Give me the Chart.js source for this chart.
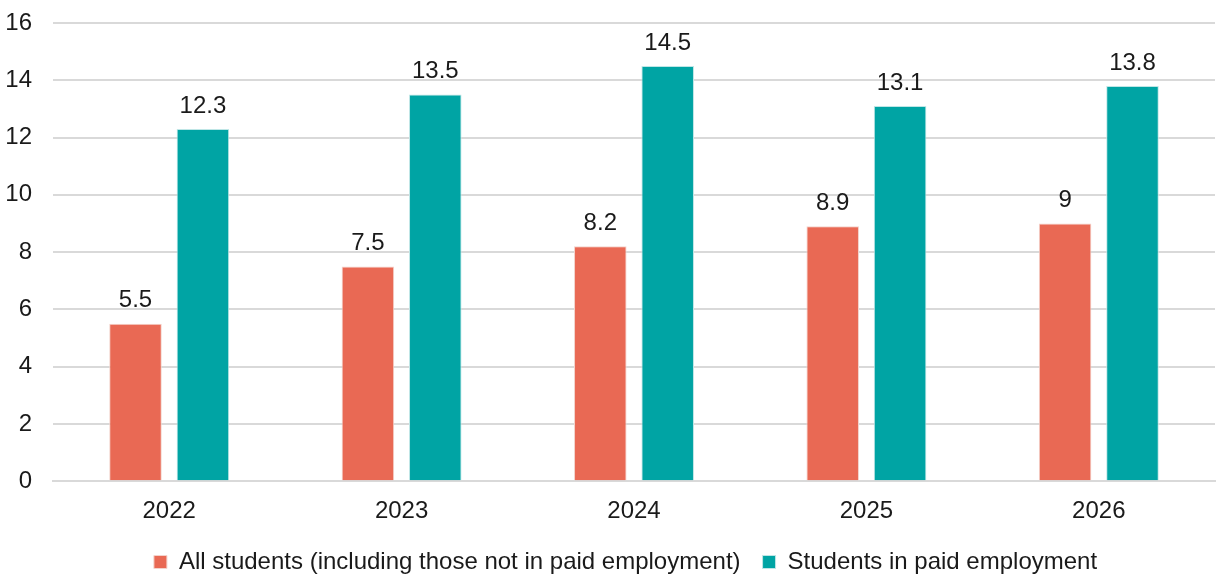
<!DOCTYPE html>
<html>
<head>
<meta charset="utf-8">
<script src="https://cdn.jsdelivr.net/npm/chart.js@4/dist/chart.umd.min.js"></script>
<style>
  html, body { margin: 0; padding: 0; background: #fff; }
  #wrap { width: 1219px; height: 574px; }
</style>
</head>
<body>
<div id="wrap"><canvas id="grafico"></canvas></div>
<script>
const anios = ['2022', '2023', '2024', '2025', '2026'];
const todosEstudiantes = [5.5, 7.5, 8.2, 8.9, 9];
const estudiantesEmpleados = [12.3, 13.5, 14.5, 13.1, 13.8];
const marcasEjeY = [0, 2, 4, 6, 8, 10, 12, 14, 16];

const fuente = '"Liberation Sans", Arial, sans-serif';
const tamLetra = 24;

// escribe el valor encima de cada barra
const etiquetasValor = {
    id: 'etiquetasValor',
    afterDatasetsDraw(chart) {
        const ctx = chart.ctx;
        ctx.save();
        ctx.font = tamLetra + 'px ' + fuente;
        ctx.fillStyle = '#1a1a1a';
        ctx.textAlign = 'center';
        ctx.textBaseline = 'bottom';
        chart.data.datasets.forEach((ds, i) => {
            chart.getDatasetMeta(i).data.forEach((barra, j) => {
                ctx.fillText(String(ds.data[j]), barra.x, barra.y - 11);
            });
        });
        ctx.restore();
    }
};

// recoloca la leyenda un poco a la derecha y hacia arriba
const moverLeyenda = {
    id: 'moverLeyenda',
    afterLayout(chart) {
        const ley = chart.legend;
        if (!ley) return;
        ley.left += 16;
        ley.right += 16;
        ley.top -= 6;
        ley.bottom -= 6;
    }
};

new Chart(document.getElementById('grafico').getContext('2d'), {
    type: 'bar',
    data: {
        labels: anios,
        datasets: [{
            label: 'All students (including those not in paid employment)',
            data: todosEstudiantes,
            backgroundColor: '#e96954',
            borderColor: '#f3d3cc',
            borderWidth: 1,
            categoryPercentage: 0.58,
            barPercentage: 0.78
        }, {
            label: 'Students in paid employment',
            data: estudiantesEmpleados,
            backgroundColor: '#00a4a4',
            borderColor: '#bfe6e6',
            borderWidth: 1,
            categoryPercentage: 0.58,
            barPercentage: 0.78
        }]
    },
    options: {
        responsive: true,
        maintainAspectRatio: false,
        animation: false,
        layout: { padding: { left: 4, right: 4, top: 0, bottom: -16 } },
        plugins: {
            tooltip: { enabled: false },
            legend: {
                position: 'bottom',
                labels: {
                    font: { family: fuente, size: tamLetra },
                    color: '#1a1a1a',
                    boxWidth: 13,
                    boxHeight: 13,
                    padding: 22
                }
            }
        },
        scales: {
            x: {
                grid: { display: false },
                border: { color: '#d9d9d9', width: 2 },
                ticks: {
                    font: { family: fuente, size: tamLetra },
                    color: '#1a1a1a',
                    padding: 8
                }
            },
            y: {
                min: 0,
                max: 16,
                afterBuildTicks(axis) {
                    axis.ticks = marcasEjeY.map(v => ({ value: v }));
                },
                afterFit(axis) {
                    axis.width = 49;
                    axis.paddingTop = 23;
                    axis.paddingBottom = 0;
                },
                grid: { color: '#d9d9d9', lineWidth: 2, drawTicks: false },
                border: { display: false },
                ticks: {
                    font: { family: fuente, size: tamLetra },
                    color: '#1a1a1a',
                    padding: 21
                }
            }
        }
    },
    plugins: [etiquetasValor, moverLeyenda]
});
</script>
</body>
</html>
